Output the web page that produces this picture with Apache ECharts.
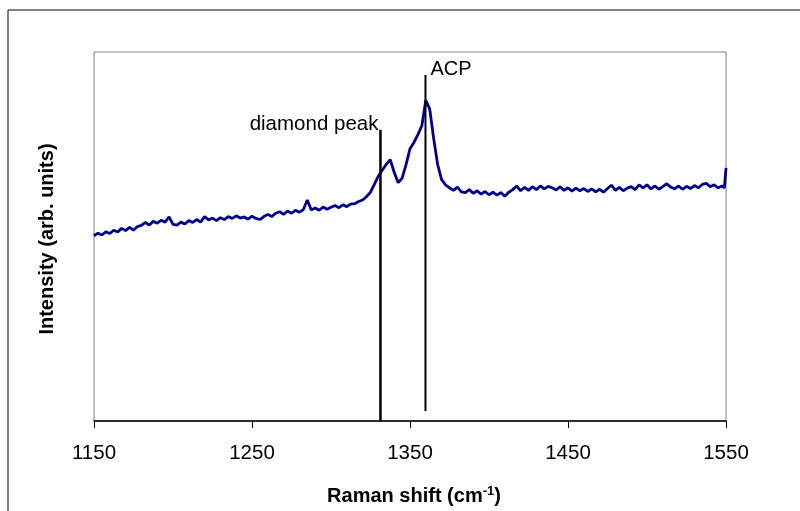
<!DOCTYPE html>
<html><head><meta charset="utf-8">
<script src="https://cdn.jsdelivr.net/npm/echarts@6/dist/echarts.min.js"></script>
<style>html,body{margin:0;padding:0;background:#fff}#c{width:800px;height:511px}</style>
</head><body><div id="c"></div>
<script>
const ramanShift = [1150,1152.5,1155,1157.5,1160,1162.5,1165,1167.5,1170,1172.5,1175,1177.5,1180,1182.5,1185,1187.5,1190,1192.5,1195,1197.5,
1200,1202.5,1205,1207.5,1210,1212.5,1215,1217.5,1220,1222.5,1225,1227.5,1230,1232.5,1235,1237.5,1240,1242.5,1245,1247.5,
1250,1252.5,1255,1257.5,1260,1262.5,1265,1267.5,1270,1272.5,1275,1277.5,1280,1282.5,1285,1287.5,1290,1292.5,1295,1297.5,
1300,1302.5,1305,1307.5,1310,1312.5,1315,1317.5,1320,1322.5,1325,1327.5,1330,1332.5,1335,1337.5,1340,1342.5,1345,1347.5,
1350,1352.5,1355,1357.5,1360,1362.5,1365,1367.5,1370,1372.5,1375,1377.5,1380,1382.5,1385,1387.5,1390,1392.5,1395,1397.5,
1400,1402.5,1405,1407.5,1410,1412.5,1415,1417.5,1420,1422.5,1425,1427.5,1430,1432.5,1435,1437.5,1440,1442.5,1445,1447.5,
1450,1452.5,1455,1457.5,1460,1462.5,1465,1467.5,1470,1472.5,1475,1477.5,1480,1482.5,1485,1487.5,1490,1492.5,1495,1497.5,
1500,1502.5,1505,1507.5,1510,1512.5,1515,1517.5,1520,1522.5,1525,1527.5,1530,1532.5,1535,1537.5,1540,1542.5,1545,1547.5,1549,1550];
const intensity = [50.2,50.9,50.4,51.3,50.8,51.7,51.2,52.2,51.6,52.5,51.7,52.7,53.0,53.8,53.1,54.1,53.6,54.4,53.9,55.3,
53.3,53.1,53.9,53.4,54.3,53.8,54.6,53.9,55.4,54.5,55.0,54.3,55.1,54.6,55.4,54.9,55.6,55.0,55.3,54.7,
55.5,54.9,54.6,55.4,56.0,55.4,56.3,56.7,56.0,56.9,56.3,57.1,56.6,57.3,59.9,57.2,57.7,57.1,58.0,57.4,
57.9,58.4,57.8,58.6,58.1,58.8,58.9,59.5,59.9,60.8,62.0,64.2,66.4,68.0,69.6,70.8,67.4,64.6,65.8,69.5,
73.8,75.5,77.6,80.0,86.9,84.5,76.5,69.5,65.4,64.0,63.2,62.5,63.4,62.1,61.9,62.7,61.7,62.4,61.5,62.2,
61.3,62.0,61.2,61.9,60.9,62.0,62.7,63.7,62.4,63.3,62.5,63.5,62.7,63.7,62.9,63.6,63.2,62.6,63.5,62.5,
63.2,62.3,63.1,62.4,63.0,62.2,62.9,62.1,62.8,62.0,63.0,63.9,62.5,63.3,62.4,63.1,63.5,62.7,64.0,63.2,
64.0,62.9,63.7,62.8,63.5,64.3,63.4,62.9,63.7,62.8,63.6,63.0,63.8,63.2,64.1,64.4,63.5,64.0,63.2,63.7,63.2,68.6];
const xTicks = [1150,1250,1350,1450,1550];
const diamondLineX = [1331.3,1331.3];
const diamondLineY = [0,78.9];
const acpLineX = [1359.8,1359.8];
const acpLineY = [2.7,93.8];
const diamondLabel = 'diamond peak';
const acpLabel = 'ACP';

const FONT = '"Liberation Sans", Arial, sans-serif';
const zip = (a,b)=>a.map((v,i)=>[v,b[i]]);
const chart = echarts.init(document.getElementById('c'));
chart.setOption({
  animation:false,
  backgroundColor:'#fff',
  grid:{left:94,right:74,top:52,bottom:90,show:true,borderColor:'#808080',borderWidth:1,backgroundColor:'transparent'},
  xAxis:{type:'value',min:1150,max:1550,
    axisLine:{show:true,lineStyle:{color:'#000',width:1.5}},
    axisTick:{show:true,inside:false,length:7,customValues:xTicks,lineStyle:{color:'#000'}},
    axisLabel:{customValues:xTicks,formatter:v=>String(v),fontFamily:FONT,fontSize:20.5,color:'#000',margin:22},
    splitLine:{show:false}},
  yAxis:{type:'value',min:0,max:100,axisLine:{show:false},axisTick:{show:false},axisLabel:{show:false},splitLine:{show:false}},
  graphic:[
    {type:'rect',shape:{x:8,y:10,width:820,height:520},style:{fill:'none',stroke:'#000',lineWidth:1},silent:true},
    {type:'text',x:47,y:239,rotation:Math.PI/2,style:{text:'Intensity (arb. units)',font:'bold 20px '+FONT,fill:'#000',align:'center',verticalAlign:'middle'}},
    {type:'text',x:414,y:496,style:{text:'{a|Raman shift (cm}{s|-1}{a|)}',rich:{a:{font:'bold 20px '+FONT,fill:'#000'},s:{font:'bold 13px '+FONT,fill:'#000',verticalAlign:'top',padding:[0,0,10,0]}},align:'center',verticalAlign:'middle'}}
  ],
  series:[
    {type:'line',data:zip(ramanShift,intensity),showSymbol:false,lineStyle:{color:'#00008B',width:2.8},z:3},
    {type:'line',data:zip(diamondLineX,diamondLineY),showSymbol:false,lineStyle:{color:'#000',width:2.5},z:4,
      endLabel:{show:true,formatter:()=>diamondLabel,fontFamily:FONT,fontSize:20.5,color:'#000',distance:0,offset:[-2,-6],align:'right'}},
    {type:'line',data:zip(acpLineX,acpLineY),showSymbol:false,lineStyle:{color:'#000',width:2},z:4,
      endLabel:{show:true,formatter:()=>acpLabel,fontFamily:FONT,fontSize:20,color:'#000',distance:5,offset:[0,-5]}}
  ]
});
</script></body></html>
